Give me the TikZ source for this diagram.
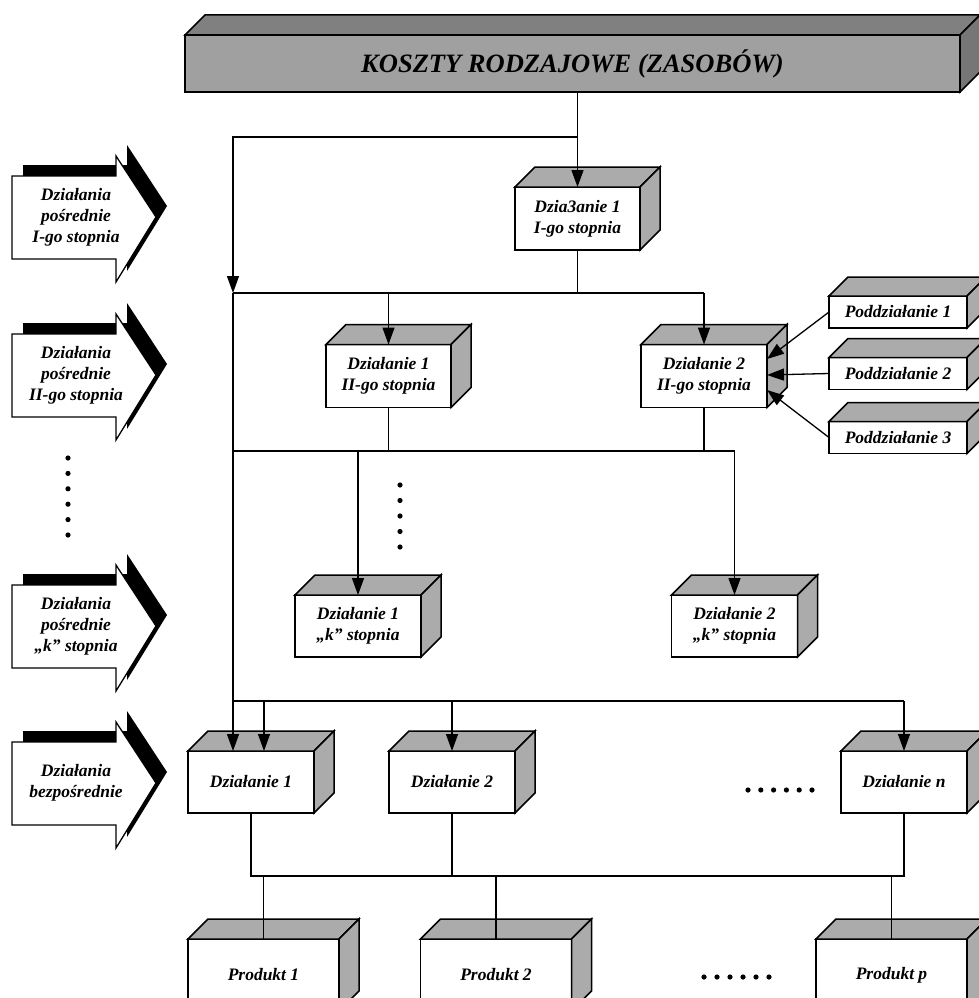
\documentclass[tikz,border=0pt]{standalone}
\usepackage{fontspec}
\setmainfont{Liberation Serif}
\usetikzlibrary{arrows.meta,calc}
\definecolor{faceg}{HTML}{ABABAB}
\definecolor{bantop}{HTML}{808080}
\definecolor{banfront}{HTML}{A0A0A0}
\definecolor{banside}{HTML}{767676}
\tikzset{
  lbl/.style={font=\bfseries\itshape\fontsize{17.5}{21}\selectfont, align=center},
  front/.style={draw, line width=1.5pt, fill=white, inner sep=0pt, outer sep=0pt, lbl},
  conn/.style={line width=1.3pt},
  arr/.style={conn, -{Triangle[length=17pt,width=12pt]}},
  face/.style={draw, line width=1.5pt, fill=faceg, line join=miter},
}
\newcommand\cubefaces[3][faceg]{%
  \draw[face, fill=#1] (#2.north west) -- ++(#3,-#3) -- ($(#2.north east)+(#3,-#3)$) -- (#2.north east) -- cycle;
  \draw[face] (#2.north east) -- ++(#3,-#3) -- ($(#2.south east)+(#3,-#3)$) -- (#2.south east) -- cycle;
}
\newcommand\sidearrow[3]{%
  \fill[black] (23,#1-52) -- (127,#1-52) -- (127,#1-72) -- (167,#1-11) -- (127,#1+54) -- (127,#1+31) -- (23,#1+31) -- cycle;
  \draw[line width=1.3pt, fill=white, line join=miter] (12,#1-41) -- (116,#1-41) -- (116,#1-61) -- (156,#1) -- (116,#1+65) -- (116,#1+42) -- (12,#1+42) -- cycle;
  \node[lbl] (#2) at (76,#1) {#3};
}
\begin{document}
\begin{tikzpicture}[x=1pt,y=-1pt]
\useasboundingbox (0,0) rectangle (979,998);
\fill[white] (0,0) rectangle (979,998);

% banner
\node[front, fill=banfront, minimum width=775pt, minimum height=57pt,
      font=\bfseries\itshape\fontsize{26.5}{30}\selectfont] (banner) at (572.5,63.5) {KOSZTY RODZAJOWE (ZASOBÓW)};
\draw[face, fill=bantop] (banner.north west) -- ++(20,-20) -- ($(banner.north east)+(20,-20)$) -- (banner.north east) -- cycle;
\draw[face, fill=banside] (banner.north east) -- ++(20,-20) -- ($(banner.south east)+(20,-20)$) -- (banner.south east) -- cycle;

% left block arrows
\sidearrow{217}{la1}{Działania\\pośrednie\\I-go stopnia}
\sidearrow{375}{la2}{Działania\\pośrednie\\II-go stopnia}
\sidearrow{626}{la3}{Działania\\pośrednie\\„k” stopnia}
\sidearrow{783}{la4}{Działania\\bezpośrednie}

% boxes
\node[front, minimum width=125pt, minimum height=63pt] (a1) at (577.5,218.5) {Dzia3anie 1\\I-go stopnia};
\node[front, minimum width=125pt, minimum height=63pt] (b2a) at (388.5,376) {Działanie 1\\II-go stopnia};
\node[front, minimum width=126pt, minimum height=63pt] (b2b) at (704,376) {Działanie 2\\II-go stopnia};
\node[front, minimum width=138pt, minimum height=32pt] (p1) at (898,312) {Poddziałanie 1};
\node[front, minimum width=138pt, minimum height=32pt] (p2) at (898,373.5) {Poddziałanie 2};
\node[front, minimum width=138pt, minimum height=32pt] (p3) at (898,437.5) {Poddziałanie 3};
\node[front, minimum width=126pt, minimum height=62pt] (k1) at (358,626) {Działanie 1\\„k” stopnia};
\node[front, minimum width=126pt, minimum height=62pt] (k2) at (734.5,626) {Działanie 2\\„k” stopnia};
\node[front, minimum width=126pt, minimum height=62pt] (d1) at (251,782) {Działanie 1};
\node[front, minimum width=126pt, minimum height=62pt] (d2) at (452,782) {Działanie 2};
\node[front, minimum width=126pt, minimum height=62pt] (dn) at (904,782) {Działanie n};
\node[front, minimum width=151pt, minimum height=72pt] (pr1) at (263.5,975) {Produkt 1};
\node[front, minimum width=151pt, minimum height=72pt] (pr2) at (496,975) {Produkt 2};
\node[front, minimum width=151pt, minimum height=72pt] (prp) at (891.5,975) {Produkt p};

\cubefaces{a1}{20}
\cubefaces{b2a}{20}
\cubefaces{b2b}{20}
\cubefaces{p1}{19}
\cubefaces{p2}{19}
\cubefaces{p3}{19}
\cubefaces{k1}{20}
\cubefaces{k2}{20}
\cubefaces{d1}{20}
\cubefaces{d2}{20}
\cubefaces{dn}{20}
\cubefaces{pr1}{20}
\cubefaces{pr2}{20}
\cubefaces{prp}{20}

% coordinates
\coordinate (j0) at (577.5,137);
\coordinate (bus1W) at (233,293);
\coordinate (bus2W) at (233,451);
\coordinate (bus3W) at (233,701);
\coordinate (d1b) at (264,701);
\coordinate (bus4) at (251,876);
\coordinate (t1) at ($(b2b.east)+(0,-17)$);
\coordinate (t2) at ($(b2b.east)+(0,-1)$);
\coordinate (t3) at ($(b2b.east)+(0,14)$);

% connectors
\draw[arr] (banner.south -| a1.north) -- (a1.north);
\draw[arr] (j0) -| (bus1W);
\draw[conn] (a1.south) -- (a1.south |- bus1W);
\draw[conn] (bus1W) -- (bus1W -| b2b.north);
\draw[arr] (bus1W -| b2a.north) -- (b2a.north);
\draw[arr] (bus1W -| b2b.north) -- (b2b.north);
\draw[conn] (bus1W) -- (bus3W);
\draw[arr] (p1.west) -- (t1);
\draw[arr] (p2.west) -- (t2);
\draw[arr] (p3.west) -- (t3);

\draw[conn] (b2a.south) -- (b2a.south |- bus2W);
\draw[conn] (b2b.south) -- (b2b.south |- bus2W);
\draw[conn] (bus2W) -- (bus2W -| k2.north);
\draw[arr] (bus2W -| k1.north) -- (k1.north);
\draw[arr] (bus2W -| k2.north) -- (k2.north);

\draw[conn] (bus3W) -- (bus3W -| dn.north);
\draw[arr] (bus3W) -- (bus3W |- d1.north);
\draw[arr] (d1b) -- (d1b |- d1.north);
\draw[arr] (bus3W -| d2.north) -- (d2.north);
\draw[arr] (bus3W -| dn.north) -- (dn.north);

\draw[conn] (d1.south) -- (bus4) -- (bus4 -| dn.south) -- (dn.south);
\draw[conn] (d2.south) -- (d2.south |- bus4);
\draw[conn] (bus4 -| pr1.north) -- (pr1.north);
\draw[conn] (bus4 -| pr2.north) -- (pr2.north);
\draw[conn] (bus4 -| prp.north) -- (prp.north);

% dots
\foreach \yy in {458,473.4,488.8,504.2,519.6,535} \fill (68,\yy) circle (2.6pt);
\foreach \yy in {485,500.5,516,531.5,547} \fill (400,\yy) circle (2.6pt);
\foreach \xx in {748,760.8,773.6,786.4,799.2,812} \fill (\xx,790) circle (2.6pt);
\foreach \xx in {704,717,730,743,756,769} \fill (\xx,977) circle (2.6pt);
\end{tikzpicture}
\end{document}
